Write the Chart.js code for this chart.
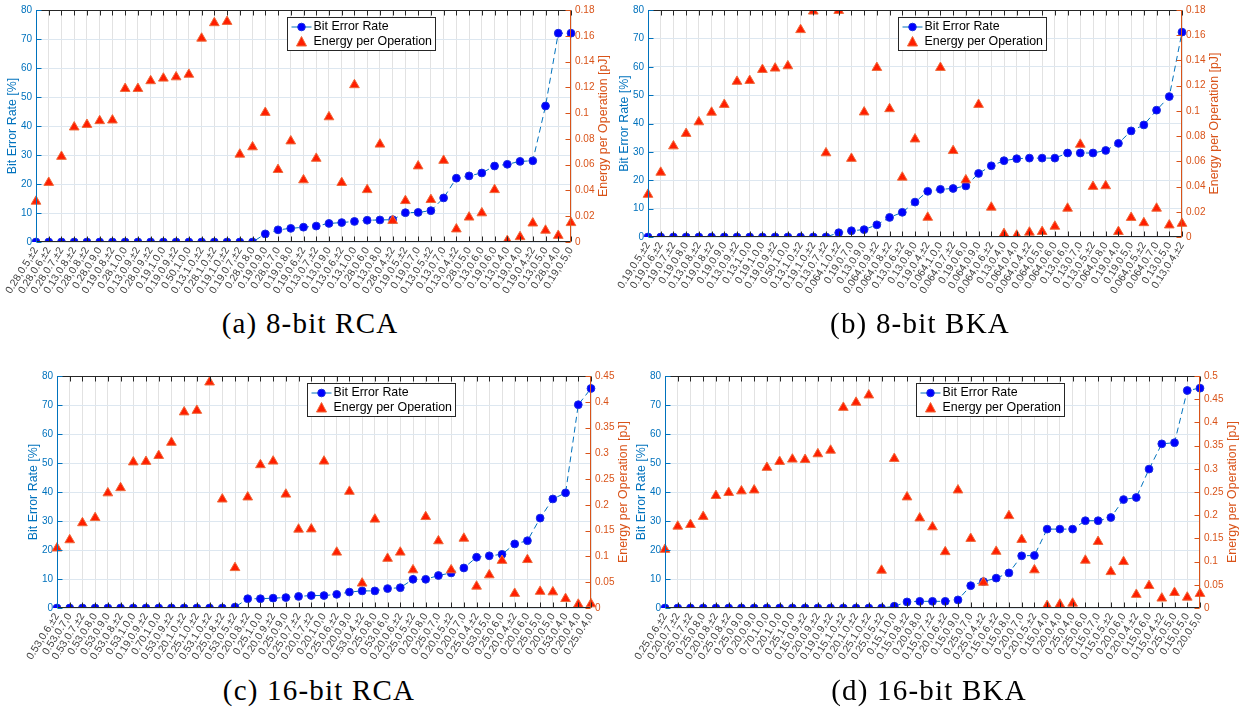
<!DOCTYPE html>
<html lang="en">
<head>
<meta charset="UTF-8">
<title>Bit Error Rate and Energy per Operation</title>
<script src="https://cdn.jsdelivr.net/npm/chart.js@4.4.1/dist/chart.umd.min.js"></script>
<style>
    body {
        margin: 0;
        width: 1248px;
        height: 710px;
        background: #fff;
        position: relative;
        overflow: hidden;
    }
    canvas {
        position: absolute;
    }
    .caption {
        position: absolute;
        width: 400px;
        text-align: center;
        font-family: "Liberation Serif", "DejaVu Serif", serif;
        font-size: 29px;
        letter-spacing: 1.2px;
        color: #000;
        line-height: 30px;
    }
</style>
</head>
<body>
<canvas id="chartA"></canvas>
<canvas id="chartB"></canvas>
<canvas id="chartC"></canvas>
<canvas id="chartD"></canvas>
<div class="caption" style="left:110px; top:308px;">(a) 8-bit RCA</div>
<div class="caption" style="left:720px; top:308px;">(b) 8-bit BKA</div>
<div class="caption" style="left:119px; top:675px;">(c) 16-bit RCA</div>
<div class="caption" style="left:729px; top:675px;">(d) 16-bit BKA</div>

<script>
// ---- data ----
const labelsA = ['0.28,0.5,±2','0.28,0.6,±2','0.28,0.7,±2','0.13,0.8,±2','0.28,0.8,±2','0.28,0.9,0','0.19,0.8,±2','0.28,1.0,0','0.13,0.9,±2','0.28,0.9,±2',
    '0.19,1.0,0','0.19,0.9,±2','0.50,1.0,0','0.13,1.0,±2','0.28,1.0,±2','0.19,1.0,±2','0.19,0.7,±2','0.28,0.8,0','0.19,0.9,0','0.28,0.7,0',
    '0.19,0.8,0','0.19,0.6,±2','0.13,0.7,±2','0.13,0.9,0','0.13,0.6,±2','0.13,1.0,0','0.28,0.6,0','0.13,0.8,0','0.28,0.4,±2','0.19,0.5,±2',
    '0.19,0.7,0','0.13,0.5,±2','0.13,0.7,0','0.13,0.4,±2','0.28,0.5,0','0.13,0.6,0','0.19,0.6,0','0.13,0.4,0','0.19,0.4,0','0.19,0.4,±2',
    '0.13,0.5,0','0.28,0.4,0','0.19,0.5,0'];
const berA = [0,0,0,0,0,0,0,0,0,0,0,0,0,0,0,0,0,0,2.8,4.2,
    4.7,5.1,5.5,6.4,6.7,7.1,7.5,7.6,7.7,10.1,10.2,10.8,15.2,22.0,22.8,23.8,26.2,26.8,27.8,28.0,
    46.9,72.0,72.0];
const energyA = [0.0315,0.0461,0.0663,0.0891,0.0911,0.094,0.0945,0.119,0.119,0.125,
    0.127,0.128,0.130,0.158,0.170,0.171,0.068,0.0737,0.1004,0.0561,
    0.0783,0.0481,0.0648,0.097,0.046,0.1219,0.0405,0.0758,0.0166,0.032,
    0.0589,0.0328,0.0632,0.010,0.0192,0.0225,0.0405,0.001,0.004,0.0146,
    0.009,0.005,0.0149];

const labelsB = ['0.19,0.5,±2','0.19,0.6,±2','0.19,0.7,±2','0.19,0.8,0','0.13,0.8,±2','0.19,0.8,±2','0.19,0.9,0','0.13,0.9,±2','0.13,1.0,0','0.19,1.0,0',
    '0.19,0.9,±2','0.50,1.0,0','0.13,1.0,±2','0.19,1.0,±2','0.13,0.7,±2','0.064,1.0,±2','0.19,0.7,0','0.13,0.9,0','0.064,0.9,±2','0.064,0.8,±2',
    '0.13,0.6,±2','0.13,0.8,0','0.19,0.4,±2','0.064,1.0,0','0.064,0.7,±2','0.19,0.6,0','0.064,0.9,0','0.064,0.6,±2','0.13,0.4,0','0.064,0.4,0',
    '0.064,0.4,±2','0.064,0.5,0','0.064,0.6,0','0.13,0.6,0','0.13,0.7,0','0.13,0.5,±2','0.064,0.8,0','0.19,0.4,0','0.19,0.5,0','0.064,0.5,±2',
    '0.064,0.7,0','0.13,0.5,0','0.13,0.4,±2'];
const berB = [0,0,0,0,0,0,0,0,0,0,0,0,0,0,0,1.5,2.2,2.6,4.3,6.9,
    8.7,12.3,16.1,16.8,17.1,18.0,22.4,25.1,26.9,27.6,27.8,27.8,27.8,29.6,29.6,29.6,30.5,33.0,37.4,39.5,
    44.7,49.5,72.2];
const energyB = [0.0337,0.0512,0.0721,0.082,0.0912,0.0988,0.105,0.1233,0.124,0.1327,
    0.1338,0.1356,0.1643,0.179,0.0666,0.1795,0.0622,0.099,0.1343,0.1016,
    0.0473,0.0776,0.0155,0.1343,0.0684,0.0452,0.105,0.0235,0.0026,0.0013,
    0.0037,0.0042,0.0084,0.0227,0.0734,0.040,0.0405,0.0042,0.0154,0.0112,
    0.0227,0.0094,0.0107];

const labelsC = ['0.53,0.6,±2','0.53,0.7,0','0.53,0.7,±2','0.53,0.8,0','0.53,0.9,0','0.53,0.8,±2','0.53,1.0,0','0.19,0.9,±2','0.70,1.0,0','0.53,0.9,±2',
    '0.20,1.0,±2','0.25,1.0,±2','0.53,1.0,±2','0.25,0.8,±2','0.53,0.5,±2','0.20,0.8,±2','0.25,1.0,0','0.20,0.9,±2','0.25,0.9,0','0.25,0.7,±2',
    '0.20,0.7,±2','0.20,1.0,0','0.25,0.6,±2','0.20,0.9,0','0.53,0.4,±2','0.25,0.8,0','0.53,0.6,0','0.20,0.6,±2','0.25,0.5,±2','0.20,0.8,0',
    '0.25,0.7,0','0.20,0.5,±2','0.20,0.7,0','0.25,0.4,±2','0.53,0.5,0','0.25,0.6,0','0.20,0.4,±2','0.20,0.6,0','0.25,0.5,0','0.20,0.5,0',
    '0.53,0.4,0','0.20,0.4,0','0.25,0.4,0'];
const berC = [0,0,0,0,0,0,0,0,0,0,0,0,0,0,0.3,3.2,3.2,3.4,3.6,4.0,
    4.3,4.3,4.7,5.5,5.9,5.9,6.7,7.0,9.9,9.9,11.2,12.1,13.8,17.5,18.0,18.5,22.1,23.2,31.0,37.6,
    39.7,70.1,75.7];
const energyC = [0.116,0.132,0.165,0.175,0.223,0.233,0.283,0.284,0.2955,0.321,
    0.380,0.383,0.438,0.211,0.078,0.215,0.2776,0.2846,0.2205,0.1526,
    0.153,0.2846,0.108,0.226,0.048,0.172,0.096,0.108,0.0737,0.177,
    0.130,0.0737,0.135,0.042,0.064,0.092,0.028,0.0936,0.032,0.031,
    0.018,0.007,0.0077];

const labelsD = ['0.25,0.6,±2','0.20,0.7,±2','0.25,0.7,±2','0.25,0.8,0','0.20,0.8,±2','0.25,0.8,±2','0.25,0.9,0','0.20,0.9,0','0.70,1.0,0','0.20,1.0,0',
    '0.25,1.0,0','0.15,0.9,±2','0.20,0.9,±2','0.19,0.9,±2','0.15,1.0,±2','0.20,1.0,±2','0.25,1.0,±2','0.25,0.5,±2','0.15,1.0,0','0.15,0.8,±2',
    '0.20,0.8,0','0.15,0.7,±2','0.20,0.6,±2','0.15,0.9,0','0.25,0.7,0','0.25,0.4,±2','0.15,0.6,±2','0.15,0.8,0','0.20,0.7,0','0.20,0.5,±2',
    '0.15,0.4,0','0.20,0.4,0','0.25,0.4,0','0.25,0.6,0','0.15,0.7,0','0.15,0.5,±2','0.20,0.6,0','0.20,0.4,±2','0.15,0.6,0','0.15,0.4,±2',
    '0.25,0.5,0','0.15,0.5,0','0.20,0.5,0'];
const berD = [0,0,0,0,0,0,0,0,0,0,0,0,0,0,0,0,0,0,0.6,2.1,
    2.3,2.3,2.3,2.8,7.7,9.1,10.3,12.1,18.0,18.1,27.2,27.2,27.2,30.1,30.1,31.2,37.4,38.1,47.9,56.6,
    57.0,75.0,75.8];
const energyD = [0.126,0.176,0.1795,0.197,0.242,0.2486,0.252,0.254,0.3027,0.3155,
    0.3205,0.3198,0.332,0.3397,0.432,0.443,0.4587,0.081,0.322,0.239,
    0.1937,0.1745,0.121,0.254,0.1496,0.055,0.1218,0.1987,0.1474,0.0819,
    0.005,0.0078,0.01,0.1026,0.143,0.078,0.0997,0.029,0.048,0.021,
    0.033,0.023,0.031];

const berTicks = { max: 80, step: 10 };
const energyTicksSmall = { max: 0.18, step: 0.02 };
const energyTicksC = { max: 0.45, step: 0.05 };
const energyTicksD = { max: 0.5, step: 0.05 };

// ---- colours ----
const BLUE_AXIS = '#0072BD';
const ORANGE_AXIS = '#D95319';
const SANS = '"Liberation Sans", Arial, sans-serif';

// draws the MATLAB style box, inside ticks, axis titles and the legend
const matlabAxes = {
    id: 'matlabAxes',
    afterDraw(chart) {
        const { ctx, chartArea: a, scales } = chart;
        const L = Math.round(a.left) + 0.5, R = Math.round(a.right) - 0.5;
        const T = Math.round(a.top) + 0.5, B = Math.round(a.bottom) - 0.5;
        const seg = (x1, y1, x2, y2) => { ctx.beginPath(); ctx.moveTo(x1, y1); ctx.lineTo(x2, y2); ctx.stroke(); };

        ctx.save();
        ctx.lineWidth = 1;
        ctx.strokeStyle = '#262626';
        seg(L, T, R, T);
        seg(L, B, R, B);
        scales.x.ticks.forEach((t, i) => {
            const x = Math.round(scales.x.getPixelForTick(i)) + 0.5;
            seg(x, T, x, T + 5);
            seg(x, B, x, B - 5);
        });

        ctx.strokeStyle = BLUE_AXIS;
        seg(L, T - 0.5, L, B + 0.5);
        scales.y.ticks.forEach(t => {
            const y = Math.round(scales.y.getPixelForValue(t.value)) + 0.5;
            seg(L, y, L + 5, y);
        });
        ctx.strokeStyle = ORANGE_AXIS;
        seg(R, T - 0.5, R, B + 0.5);
        scales.y1.ticks.forEach(t => {
            const y = Math.round(scales.y1.getPixelForValue(t.value)) + 0.5;
            seg(R, y, R - 5, y);
        });

        // axis titles
        const mid = (a.top + a.bottom) / 2;
        ctx.font = '12.4px ' + SANS;
        ctx.textAlign = 'center';
        ctx.textBaseline = 'middle';
        ctx.fillStyle = BLUE_AXIS;
        ctx.save();
        ctx.translate(a.left - 23, mid);
        ctx.rotate(-Math.PI / 2);
        ctx.fillText('Bit Error Rate [%]', 0, 0);
        ctx.restore();
        ctx.fillStyle = ORANGE_AXIS;
        ctx.save();
        ctx.translate(a.right + 33, mid);
        ctx.rotate(-Math.PI / 2);
        ctx.fillText('Energy per Operation [pJ]', 0, 0);
        ctx.restore();

        // legend box
        const bw = 148, bh = 33;
        const bx = Math.round(a.right - 136 - bw) + 0.5;
        const by = Math.round(a.top + 7) + 0.5;
        ctx.fillStyle = '#fff';
        ctx.fillRect(bx, by, bw, bh);
        ctx.strokeStyle = '#262626';
        ctx.strokeRect(bx, by, bw, bh);

        const r1 = by + 9.5, r2 = by + 24.5;
        ctx.strokeStyle = BLUE_AXIS;
        seg(bx + 4, r1, bx + 24, r1);
        ctx.beginPath();
        ctx.arc(bx + 14, r1, 3.8, 0, Math.PI * 2);
        ctx.fillStyle = '#0000ff';
        ctx.fill();
        ctx.strokeStyle = '#1a2ee0';
        ctx.stroke();

        ctx.beginPath();
        ctx.moveTo(bx + 14, r2 - 5.5);
        ctx.lineTo(bx + 19, r2 + 4);
        ctx.lineTo(bx + 9, r2 + 4);
        ctx.closePath();
        ctx.fillStyle = '#ff1e00';
        ctx.fill();
        ctx.strokeStyle = '#ef6a3a';
        ctx.stroke();

        ctx.fillStyle = '#000';
        ctx.textAlign = 'left';
        ctx.fillText('Bit Error Rate', bx + 26, r1);
        ctx.fillText('Energy per Operation', bx + 26, r2);
        ctx.restore();
    }
};

function makePanel(id, pos, labels, ber, energy, eTicks) {
    const canvas = document.getElementById(id);
    canvas.width = pos.w;
    canvas.height = pos.h;
    canvas.style.left = pos.left + 'px';
    canvas.style.top = pos.top + 'px';
    canvas.style.width = pos.w + 'px';
    canvas.style.height = pos.h + 'px';

    const lw = pos.area.l - pos.left;
    const rw = pos.left + pos.w - pos.area.r;
    const xh = pos.top + pos.h - pos.area.b;
    const padTop = pos.area.t - pos.top;

    return new Chart(canvas.getContext('2d'), {
        type: 'line',
        data: {
            labels: labels,
            datasets: [
                {
                    label: 'Bit Error Rate',
                    data: ber,
                    yAxisID: 'y',
                    order: 1,
                    borderColor: BLUE_AXIS,
                    borderWidth: 1,
                    borderDash: [6, 4],
                    tension: 0,
                    pointStyle: 'circle',
                    pointRadius: 3.9,
                    pointBackgroundColor: '#0000ff',
                    pointBorderColor: '#1a2ee0',
                    pointBorderWidth: 1
                },
                {
                    label: 'Energy per Operation',
                    data: energy,
                    yAxisID: 'y1',
                    order: 0,
                    showLine: false,
                    pointStyle: 'triangle',
                    pointRadius: 5.6,
                    pointBackgroundColor: '#ff1e00',
                    pointBorderColor: '#ef6a3a',
                    pointBorderWidth: 1
                }
            ]
        },
        options: {
            responsive: false,
            animation: false,
            events: [],
            layout: { padding: { top: padTop, left: 0, right: 0, bottom: 0 } },
            plugins: {
                legend: { display: false },
                tooltip: { enabled: false }
            },
            scales: {
                x: {
                    type: 'category',
                    offset: false,
                    grid: { color: '#e2e2e2', drawTicks: false },
                    border: { display: false },
                    ticks: {
                        autoSkip: false,
                        minRotation: 58,
                        maxRotation: 58,
                        padding: 3,
                        color: '#404040',
                        font: { family: SANS, size: 10.5 }
                    },
                    afterFit: s => { s.height = xh; }
                },
                y: {
                    position: 'left',
                    min: 0,
                    max: berTicks.max,
                    grid: { color: '#dde7f0', drawTicks: false },
                    border: { display: false },
                    ticks: {
                        stepSize: berTicks.step,
                        padding: 4,
                        color: BLUE_AXIS,
                        font: { family: SANS, size: 10 }
                    },
                    afterFit: s => { s.width = lw; }
                },
                y1: {
                    position: 'right',
                    min: 0,
                    max: eTicks.max,
                    grid: { display: false, drawTicks: false },
                    border: { display: false },
                    ticks: {
                        stepSize: eTicks.step,
                        padding: 4,
                        color: ORANGE_AXIS,
                        font: { family: SANS, size: 10 },
                        callback: v => String(parseFloat(v.toFixed(4)))
                    },
                    afterFit: s => { s.width = rw; }
                }
            }
        },
        plugins: [matlabAxes]
    });
}

makePanel('chartA', { left: -10, top: 0, w: 634, h: 305, area: { l: 36, r: 571, t: 7, b: 242 } },
    labelsA, berA, energyA, energyTicksSmall);
makePanel('chartB', { left: 600, top: 0, w: 648, h: 305, area: { l: 648, r: 1182, t: 7, b: 237 } },
    labelsB, berB, energyB, energyTicksSmall);
makePanel('chartC', { left: 0, top: 366, w: 630, h: 305, area: { l: 57, r: 591, t: 373, b: 608 } },
    labelsC, berC, energyC, energyTicksC);
makePanel('chartD', { left: 615, top: 366, w: 633, h: 305, area: { l: 665, r: 1200, t: 373, b: 608 } },
    labelsD, berD, energyD, energyTicksD);
</script>
</body>
</html>
